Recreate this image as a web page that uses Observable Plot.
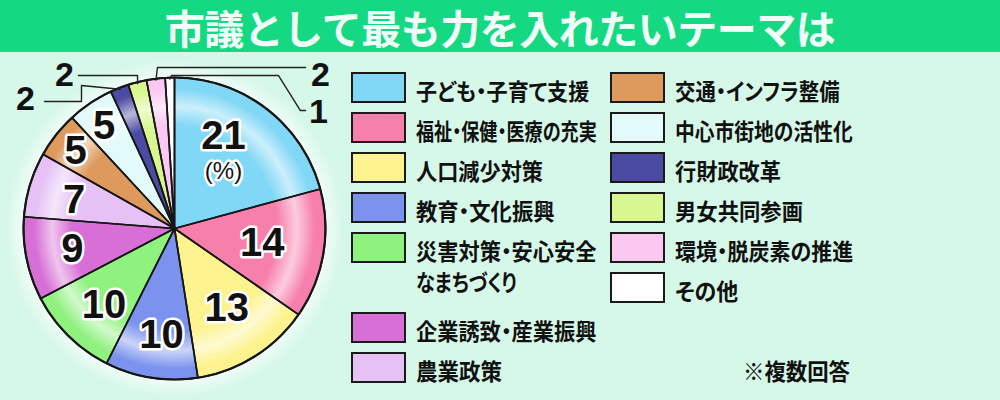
<!DOCTYPE html>
<html><head><meta charset="utf-8">
<script src="https://cdn.jsdelivr.net/npm/d3@7"></script>
<script src="https://cdn.jsdelivr.net/npm/@observablehq/plot@0.6"></script>
<style>
html,body{margin:0;padding:0;}
body{width:1000px;height:400px;background:#d6f8e8;position:relative;overflow:hidden;font-family:"Noto Sans CJK JP",sans-serif;}
#title{position:absolute;left:0;top:0;width:1000px;height:52px;background:#14d982;color:#f2fff8;font-weight:700;font-size:40px;line-height:54px;text-align:center;letter-spacing:-0.5px;}
#chart{position:absolute;left:0;top:54px;}
.sw{position:absolute;box-sizing:border-box;width:55px;height:31px;border:2.5px solid #1a1a1a;}
.lt{position:absolute;font-weight:700;font-size:23px;line-height:29px;color:#111;transform-origin:0 0;white-space:nowrap;font-feature-settings:"palt";}
#note{position:absolute;left:743px;top:355px;font-weight:700;font-size:23px;line-height:30px;color:#111;white-space:nowrap;transform-origin:0 0;}
</style>
</head><body>
<div id="title">市議として最も力を入れたいテーマは</div>
<div id="chart"></div>
<div id="legend"></div>
<div id="note">※複数回答</div>
<script>
// ---- data ----
const categories = ["子ども・子育て支援","福祉・保健・医療の充実","人口減少対策","教育・文化振興","災害対策・安心安全なまちづくり","企業誘致・産業振興","農業政策","交通・インフラ整備","中心市街地の活性化","行財政改革","男女共同参画","環境・脱炭素の推進","その他"];
const values = [21,14,13,10,10,9,7,5,5,2,2,2,1];
const colors = ["#80d7f6","#f77fab","#fdf38e","#7b93ee","#8ff17e","#d86fd6","#e5c1f5","#de9a5d","#e2fbfa","#4b4ba4","#d8f78f","#fbc8f1","#ffffff"];
const unitLabel = "(%)";
const noteText = "※複数回答";

// ---- layout (positions / styles only) ----
const W = 345, H = 346, CX = 174, CY = 174, R = 151;
const insideR = [0.69,0.59,0.63,0.71,0.69,0.69,0.69,0.83,0.82];
const insideDa = [-9.4,0,-1.3,-1.9,-1.9,0,-1.4,-0.4,-0.8];
const outside = { // label pos and elbows in pie units
  9:  {lx:-0.987, ly:0.854, path:[[-0.861,0.841],[-0.616,0.841],[-0.616,0.947]]},
  10: {lx:-0.728, ly:1.013, path:[[-0.636,1.013],[-0.245,1.013]]},
  11: {lx:0.967,  ly:1.013, path:[[0.868,1.066],[-0.113,1.066]]},
  12: {lx:0.954,  ly:0.768, path:[[0.868,0.781],[0.834,0.781],[0.689,1.013],[-0.02,1.013]]}
};
const legendWidths = [173,181,127,139,[181,101],181,86,165,178,106,128,178,63];
const legendBreak = {4: 9};

const arcs = d3.pie().sort(null).value(d => d)(values);

// slice polygons
const slicePts = [];
arcs.forEach((a, i) => {
  const key = categories[i];
  slicePts.push({key, x: 0, y: 0});
  const n = Math.max(2, Math.ceil((a.endAngle - a.startAngle) / (Math.PI / 360)));
  for (let k = 0; k <= n; k++) {
    const t = a.startAngle + (a.endAngle - a.startAngle) * k / n;
    slicePts.push({key, x: Math.sin(t), y: Math.cos(t)});
  }
  slicePts.push({key, x: 0, y: 0});
});

const deg = Math.PI / 180;
const inside = [];
arcs.forEach((a, i) => {
  if (outside[i]) return;
  const m = (a.startAngle + a.endAngle) / 2 + (insideDa[i] || 0) * deg;
  const r = insideR[i];
  inside.push({x: r * Math.sin(m), y: r * Math.cos(m), text: String(values[i])});
});

const outLabels = [], leaderPts = [];
Object.keys(outside).forEach(k => {
  const i = +k, o = outside[i], a = arcs[i];
  const m = (a.startAngle + a.endAngle) / 2;
  outLabels.push({x: o.lx, y: o.ly, text: String(values[i])});
  o.path.forEach(p => leaderPts.push({key: i, x: p[0], y: p[1]}));
  leaderPts.push({key: i, x: Math.sin(m) * 0.99, y: Math.cos(m) * 0.99});
});

const center = [{x: 0, y: 0}];
const numFont = "Liberation Sans, Arial, sans-serif";

const svg = Plot.plot({
  width: W, height: H,
  marginLeft: CX - R, marginRight: W - CX - R,
  marginTop: CY - R, marginBottom: H - CY - R,
  x: {domain: [-1, 1], axis: null},
  y: {domain: [-1, 1], axis: null},
  color: {type: "ordinal", domain: categories, range: colors},
  style: {background: "transparent", overflow: "visible"},
  marks: [
    Plot.dot(center, {x: "x", y: "y", r: R + 18, fill: "url(#halo)", stroke: null}),
    Plot.line(slicePts, {x: "x", y: "y", z: "key", fill: "key", stroke: "none"}),
    Plot.dot(center, {x: "x", y: "y", r: R, fill: "url(#ring)", stroke: null}),
    Plot.line(slicePts, {x: "x", y: "y", z: "key", stroke: "#161616", strokeWidth: 1.7, strokeLinejoin: "round"}),
    Plot.dot(center, {x: "x", y: "y", r: R, fill: "none", stroke: "#161616", strokeWidth: 2.2}),
    Plot.line(leaderPts, {x: "x", y: "y", z: "key", stroke: "#222", strokeWidth: 1.4}),
    Plot.text(inside, {x: "x", y: "y", text: "text", fontSize: 40, fontWeight: "bold", fontFamily: numFont, fill: "#111", stroke: "white", strokeWidth: 5, strokeLinejoin: "round"}),
    Plot.text([inside[0]], {x: "x", y: "y", text: () => unitLabel, dy: 35, fontSize: 24, fontFamily: numFont, fill: "#111", stroke: "white", strokeWidth: 5, strokeLinejoin: "round"}),
    Plot.text(outLabels, {x: "x", y: "y", text: "text", fontSize: 34, fontWeight: "bold", fontFamily: numFont, fill: "#111"})
  ]
});
d3.select(svg).insert("defs", ":first-child").html(`
  <radialGradient id="halo">
    <stop offset="0.86" stop-color="#ffffff" stop-opacity="0.85"/>
    <stop offset="1" stop-color="#ffffff" stop-opacity="0"/>
  </radialGradient>
  <radialGradient id="ring">
    <stop offset="0.68" stop-color="#ffffff" stop-opacity="0"/>
    <stop offset="0.81" stop-color="#ffffff" stop-opacity="0.6"/>
    <stop offset="0.93" stop-color="#ffffff" stop-opacity="0"/>
  </radialGradient>`);
d3.select(svg).selectAll("text").attr("paint-order", "stroke");
document.getElementById("chart").appendChild(svg);

// legend (HTML, built from the same arrays)
const legend = document.getElementById("legend");
const col1N = 7;
function addText(str, left, top, target) {
  const t = document.createElement("div");
  t.className = "lt";
  t.textContent = str;
  t.style.left = left + "px"; t.style.top = top + "px";
  legend.appendChild(t);
  const w = t.offsetWidth;
  t.style.transform = `scaleX(${target / w})`;
}
categories.forEach((c, i) => {
  const col = i < col1N ? 0 : 1;
  const row = col ? i - col1N : i;
  const top = 72 + 40 * row + (col === 0 && i > 4 ? 40 : 0);
  const left = col ? 610 : 351;
  const sw = document.createElement("div");
  sw.className = "sw";
  sw.style.left = left + "px"; sw.style.top = top + "px";
  sw.style.background = colors[i];
  legend.appendChild(sw);
  if (legendBreak[i] !== undefined) {
    const b = legendBreak[i];
    addText(c.slice(0, b), left + 65, top + 4, legendWidths[i][0]);
    addText(c.slice(b), left + 65, top + 35, legendWidths[i][1]);
  } else {
    addText(c, left + 65, top + 4, legendWidths[i]);
  }
});
const note = document.getElementById("note");
note.style.transform = `scaleX(${107 / note.offsetWidth})`;
</script>
</body></html>
